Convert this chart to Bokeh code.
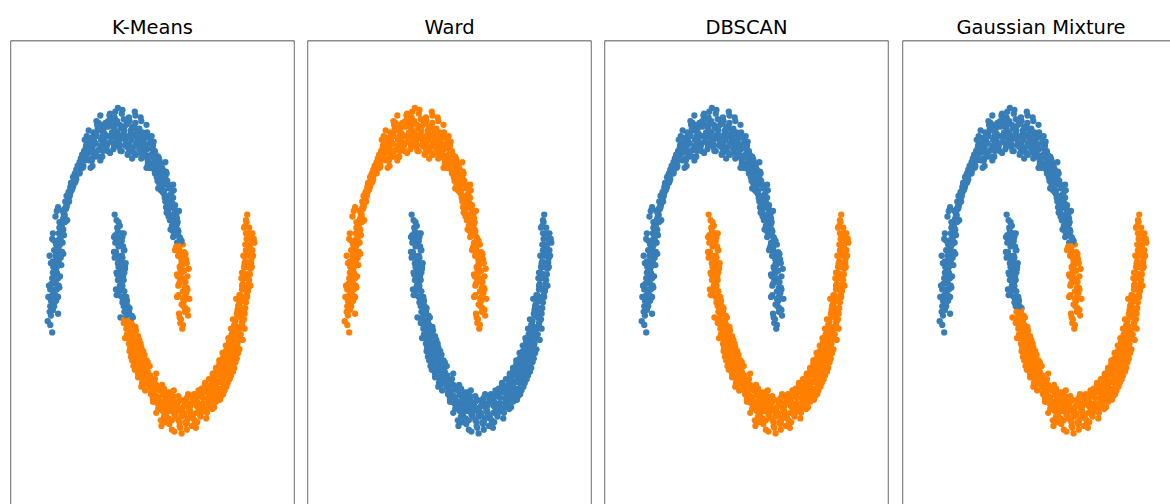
from bokeh.plotting import figure
from bokeh.layouts import row
from bokeh.models import ColumnDataSource, Range1d, Span
from bokeh.embed import file_html
from bokeh.resources import INLINE

TITLES = ["K-Means", "Ward", "DBSCAN", "Gaussian Mixture"]
COLORS = ["#377eb8", "#ff7f00"]

# ---- two-moons points ----
UPPER_X = [
    1.03, 0.95, 1.01, 1.07, 0.98, 0.94, 1.02, 1.06, 0.99, 0.97,
    1.04, 0.93, 1.00, 1.09, 0.96, 0.99, 1.05, 0.92, 1.02, 1.03,
    0.95, 1.01, 1.06, 0.97, 0.90, 1.04, 0.98, 0.93, 1.08, 0.99,
    0.96, 1.02, 0.91, 0.99, 1.05, 1.01, 0.94, 0.97, 1.06, 0.92,
    0.99, 0.90, 1.03, 0.95, 1.00, 0.92, 1.01, 0.97, 0.88, 1.04,
    0.98, 0.93, 1.02, 0.90, 0.95, 0.89, 0.97, 0.94, 1.01, 0.92,
    0.95, 0.87, 0.99, 0.92, 0.96, 0.93, 0.86, 0.97, 0.90, 0.84,
    0.88, 0.95, 0.91, 0.83, 0.93, 0.91, 0.86, 0.80, 0.94, 0.89,
    0.84, 0.90, 0.87, 0.93, 0.81, 0.88, 0.82, 0.86, 0.79, 0.91,
    0.80, 0.87, 0.84, 0.89, 0.78, 0.83, 0.77, 0.86, 0.81, 0.74,
    0.76, 0.84, 0.79, 0.82, 0.85, 0.81, 0.73, 0.78, 0.84, 0.75,
    0.72, 0.79, 0.76, 0.81, 0.70, 0.77, 0.71, 0.74, 0.68, 0.79,
    0.70, 0.75, 0.66, 0.73, 0.78, 0.72, 0.65, 0.69, 0.74, 0.67,
    0.63, 0.70, 0.67, 0.72, 0.61, 0.68, 0.60, 0.65, 0.70, 0.62,
    0.59, 0.66, 0.62, 0.57, 0.68, 0.63, 0.56, 0.60, 0.65, 0.54,
    0.55, 0.61, 0.58, 0.52, 0.60, 0.57, 0.50, 0.55, 0.59, 0.53,
    0.49, 0.56, 0.51, 0.54, 0.47, 0.52, 0.45, 0.50, 0.54, 0.48,
    0.44, 0.50, 0.47, 0.42, 0.51, 0.46, 0.40, 0.43, 0.48, 0.38,
    0.38, 0.44, 0.41, 0.36, 0.45, 0.41, 0.35, 0.39, 0.43, 0.33,
    0.32, 0.37, 0.35, 0.30, 0.40, 0.35, 0.29, 0.32, 0.37, 0.27,
    0.27, 0.32, 0.29, 0.24, 0.34, 0.29, 0.23, 0.26, 0.31, 0.21,
    0.20, 0.26, 0.23, 0.18, 0.27, 0.23, 0.17, 0.21, 0.25, 0.15,
    0.14, 0.19, 0.17, 0.12, 0.21, 0.16, 0.10, 0.14, 0.19, 0.12,
    0.08, 0.13, 0.11, 0.06, 0.15, 0.10, 0.04, 0.08, 0.12, 0.05,
    0.02, 0.07, 0.05, 0.00, 0.09, 0.04, -0.02, 0.01, 0.06, -0.01,
    -0.04, 0.01, -0.02, -0.06, 0.03, -0.02, -0.08, -0.05, -0.01, -0.07,
    -0.10, -0.05, -0.08, -0.12, -0.04, -0.08, -0.14, -0.11, -0.06, -0.13,
    -0.16, -0.12, -0.14, -0.19, -0.10, -0.15, -0.20, -0.17, -0.13, -0.22,
    -0.23, -0.18, -0.21, -0.25, -0.16, -0.21, -0.26, -0.23, -0.19, -0.28,
    -0.29, -0.24, -0.27, -0.31, -0.22, -0.27, -0.32, -0.29, -0.25, -0.34,
    -0.35, -0.30, -0.33, -0.37, -0.28, -0.33, -0.38, -0.35, -0.31, -0.40,
    -0.41, -0.36, -0.39, -0.43, -0.34, -0.39, -0.44, -0.41, -0.37, -0.46,
    -0.47, -0.42, -0.45, -0.49, -0.40, -0.45, -0.50, -0.47, -0.43, -0.52,
    -0.52, -0.47, -0.50, -0.54, -0.45, -0.50, -0.55, -0.52, -0.48, -0.57,
    -0.57, -0.52, -0.55, -0.60, -0.51, -0.55, -0.60, -0.58, -0.53, -0.62,
    -0.63, -0.57, -0.60, -0.65, -0.56, -0.60, -0.66, -0.63, -0.58, -0.68,
    -0.67, -0.62, -0.65, -0.70, -0.60, -0.65, -0.71, -0.67, -0.63, -0.73,
    -0.72, -0.67, -0.70, -0.75, -0.65, -0.69, -0.75, -0.72, -0.67, -0.77,
    -0.77, -0.71, -0.74, -0.79, -0.70, -0.74, -0.80, -0.76, -0.72, -0.82,
    -0.81, -0.75, -0.78, -0.84, -0.74, -0.78, -0.83, -0.80, -0.76, -0.86,
    -0.85, -0.76, -0.83, -0.88, -0.80, -0.80, -0.89, -0.84, -0.77, -0.86,
    -0.90, -0.84, -0.79, -0.86, -0.93, -0.83, -0.92, -0.87, -0.95, -0.85,
    -0.91, -0.82, -0.89, -0.86, -0.97, -0.87, -0.95, -0.84, -0.91, -0.99,
    -0.96, -0.88, -0.93, -0.85, -0.91, -0.89, -0.97, -0.92, -1.01, -0.87,
    -0.98, -0.90, -0.95, -0.88, -1.02, -0.92, -1.00, -0.89, -0.96, -1.04,
    -1.01, -0.93, -0.97, -0.90, -0.99, -0.92, -1.02, -0.96, -1.06, -0.94,
    -1.03, -0.95, -0.99, -0.91, -1.01, -0.95, -1.05, -0.97, -1.00, -0.92,
    -1.02, -0.94, -1.07, -0.98, -0.96, -0.96, -1.04, -0.99, -0.93, -1.08,
    -1.05, -0.98, -0.93, -1.01, -1.03, -0.97, -1.06, -1.00, -0.95, -1.02,
    -1.04, -0.96, -1.01, -1.09, -0.94, -0.99, -1.05, -0.93, -1.02, -0.97,
]
UPPER_Y = [
    0.05, -0.03, 0.09, 0.01, -0.06, 0.00, 0.11, 0.04, -0.04, 0.07,
    0.13, 0.02, 0.06, 0.10, -0.01, 0.07, 0.16, 0.12, 0.03, 0.19,
    0.20, 0.09, 0.15, 0.24, 0.11, 0.13, 0.21, 0.18, 0.26, 0.10,
    0.25, 0.16, 0.22, 0.14, 0.29, 0.19, 0.27, 0.31, 0.22, 0.17,
    0.30, 0.23, 0.34, 0.26, 0.20, 0.33, 0.25, 0.29, 0.37, 0.31,
    0.28, 0.36, 0.32, 0.40, 0.35, 0.38, 0.31, 0.43, 0.35, 0.33,
    0.42, 0.36, 0.39, 0.46, 0.33, 0.37, 0.45, 0.41, 0.50, 0.43,
    0.47, 0.40, 0.44, 0.52, 0.38, 0.51, 0.44, 0.47, 0.42, 0.55,
    0.46, 0.53, 0.49, 0.57, 0.52, 0.55, 0.49, 0.58, 0.52, 0.47,
    0.52, 0.60, 0.55, 0.50, 0.63, 0.61, 0.54, 0.58, 0.66, 0.56,
    0.57, 0.64, 0.60, 0.55, 0.68, 0.66, 0.59, 0.63, 0.71, 0.61,
    0.62, 0.70, 0.65, 0.59, 0.68, 0.71, 0.64, 0.77, 0.67, 0.62,
    0.66, 0.73, 0.70, 0.78, 0.69, 0.75, 0.68, 0.72, 0.65, 0.80,
    0.71, 0.78, 0.74, 0.83, 0.69, 0.79, 0.73, 0.76, 0.71, 0.85,
    0.75, 0.82, 0.78, 0.87, 0.73, 0.84, 0.77, 0.80, 0.74, 0.89,
    0.79, 0.86, 0.82, 0.90, 0.76, 0.87, 0.80, 0.84, 0.78, 0.92,
    0.82, 0.89, 0.86, 0.94, 0.80, 0.91, 0.84, 0.87, 0.81, 0.96,
    0.90, 0.82, 0.93, 0.87, 0.97, 0.86, 0.90, 0.80, 0.96, 0.93,
    0.86, 0.99, 0.92, 0.89, 0.82, 0.97, 0.88, 0.95, 1.03, 0.92,
    0.91, 0.99, 0.85, 0.94, 0.97, 1.05, 0.94, 0.90, 0.98, 0.87,
    0.93, 1.01, 0.96, 0.88, 1.07, 0.99, 0.91, 1.04, 0.96, 0.85,
    0.95, 1.08, 0.97, 0.90, 1.01, 1.02, 0.93, 0.98, 1.10, 0.88,
    0.91, 0.99, 1.05, 0.96, 1.02, 1.07, 0.95, 0.87, 1.00, 1.03,
    0.98, 1.04, 0.93, 1.11, 0.97, 0.92, 1.01, 1.06, 0.96, 0.89,
    1.03, 0.97, 1.09, 0.94, 1.00, 0.96, 1.05, 0.91, 1.02, 1.12,
    1.04, 0.93, 0.99, 1.07, 0.89, 0.95, 1.02, 1.10, 0.98, 0.92,
    1.06, 0.99, 0.90, 1.03, 0.96, 0.93, 1.08, 0.97, 1.01, 0.88,
    1.02, 0.94, 1.05, 0.91, 0.99, 0.97, 1.04, 0.89, 1.09, 0.95,
    1.01, 0.92, 0.98, 0.86, 1.05, 0.94, 1.03, 0.99, 0.90, 1.08,
    1.00, 0.89, 0.95, 1.04, 0.93, 0.92, 1.01, 0.86, 0.97, 1.05,
    0.98, 0.90, 1.03, 0.94, 0.84, 0.89, 0.97, 0.93, 1.01, 0.91,
    0.95, 0.86, 0.99, 0.91, 0.97, 0.88, 0.96, 0.84, 0.93, 1.00,
    0.93, 0.85, 0.90, 0.97, 0.81, 0.84, 0.92, 0.88, 0.80, 0.95,
    0.84, 0.90, 0.87, 0.81, 0.93, 0.88, 0.80, 0.85, 0.92, 0.83,
    0.81, 0.87, 0.84, 0.78, 0.90, 0.85, 0.77, 0.82, 0.89, 0.79,
    0.77, 0.83, 0.80, 0.74, 0.87, 0.81, 0.73, 0.78, 0.85, 0.76,
    0.72, 0.79, 0.76, 0.70, 0.83, 0.77, 0.69, 0.74, 0.81, 0.72,
    0.68, 0.75, 0.72, 0.66, 0.79, 0.73, 0.65, 0.70, 0.77, 0.67,
    0.63, 0.71, 0.67, 0.61, 0.75, 0.69, 0.60, 0.65, 0.72, 0.62,
    0.58, 0.67, 0.62, 0.56, 0.70, 0.64, 0.55, 0.60, 0.67, 0.57,
    0.53, 0.62, 0.58, 0.51, 0.65, 0.59, 0.50, 0.55, 0.62, 0.52,
    0.48, 0.56, 0.52, 0.45, 0.59, 0.54, 0.45, 0.50, 0.57, 0.47,
    0.42, 0.51, 0.47, 0.40, 0.54, 0.48, 0.39, 0.44, 0.51, 0.41,
    0.36, 0.45, 0.41, 0.34, 0.48, 0.42, 0.33, 0.38, 0.45, 0.35,
    0.30, 0.39, 0.35, 0.28, 0.42, 0.36, 0.27, 0.32, 0.39, 0.29,
    0.24, 0.33, 0.29, 0.22, 0.36, 0.30, 0.21, 0.26, 0.33, 0.23,
    0.18, 0.27, 0.23, 0.16, 0.30, 0.24, 0.15, 0.20, 0.27, 0.17,
    0.12, 0.21, 0.17, 0.10, 0.24, 0.18, 0.09, 0.14, 0.21, 0.11,
    0.06, 0.15, 0.11, 0.04, 0.18, 0.12, 0.03, 0.08, 0.15, 0.05,
    0.01, 0.09, 0.05, -0.02, 0.11, 0.06, -0.04, 0.02, -0.08, 0.09,
]
LOWER_X = [
    -0.03, 0.04, 0.01, -0.06, 0.06, 0.05, -0.02, 0.08, 0.00, -0.05,
    -0.01, 0.07, -0.07, 0.03, 0.02, 0.09, -0.04, 0.01, 0.05, -0.02,
    -0.05, 0.03, 0.08, -0.01, 0.04, 0.02, -0.07, 0.06, 0.00, 0.10,
    -0.02, 0.05, 0.01, 0.09, -0.04, 0.07, -0.01, 0.04, -0.06, 0.02,
    0.00, 0.08, -0.03, 0.05, 0.11, 0.06, -0.02, 0.03, 0.10, -0.04,
    0.01, 0.09, 0.05, -0.03, 0.07, 0.10, 0.02, 0.06, -0.01, 0.13,
    0.04, 0.12, 0.00, 0.08, 0.03, 0.13, 0.05, 0.09, 0.01, 0.16,
    0.07, 0.14, 0.10, 0.03, 0.12, 0.09, 0.17, 0.13, 0.06, 0.11,
    0.16, 0.08, 0.12, 0.19, 0.14, 0.12, 0.20, 0.15, 0.09, 0.17,
    0.19, 0.13, 0.17, 0.22, 0.10, 0.15, 0.21, 0.18, 0.24, 0.13,
    0.23, 0.16, 0.20, 0.26, 0.18, 0.19, 0.25, 0.22, 0.17, 0.27,
    0.27, 0.21, 0.24, 0.30, 0.19, 0.23, 0.29, 0.26, 0.21, 0.32,
    0.31, 0.25, 0.28, 0.34, 0.23, 0.27, 0.33, 0.30, 0.25, 0.35,
    0.35, 0.29, 0.33, 0.38, 0.30, 0.32, 0.38, 0.35, 0.30, 0.40,
    0.40, 0.34, 0.37, 0.43, 0.36, 0.37, 0.43, 0.40, 0.35, 0.45,
    0.45, 0.39, 0.42, 0.48, 0.41, 0.48, 0.42, 0.45, 0.50, 0.43,
    0.45, 0.51, 0.48, 0.43, 0.53, 0.53, 0.47, 0.50, 0.56, 0.49,
    0.50, 0.56, 0.53, 0.48, 0.58, 0.58, 0.53, 0.56, 0.61, 0.54,
    0.56, 0.62, 0.59, 0.54, 0.64, 0.64, 0.58, 0.61, 0.67, 0.60,
    0.62, 0.68, 0.65, 0.60, 0.70, 0.70, 0.64, 0.67, 0.73, 0.66,
    0.68, 0.74, 0.71, 0.66, 0.76, 0.76, 0.70, 0.74, 0.79, 0.72,
    0.74, 0.80, 0.77, 0.72, 0.82, 0.82, 0.76, 0.80, 0.85, 0.78,
    0.80, 0.86, 0.83, 0.78, 0.88, 0.88, 0.82, 0.86, 0.91, 0.84,
    0.86, 0.92, 0.89, 0.84, 0.94, 0.94, 0.88, 0.92, 0.97, 0.90,
    0.92, 0.98, 0.95, 0.90, 1.00, 1.01, 0.95, 0.98, 1.04, 0.97,
    0.99, 1.05, 1.02, 0.97, 1.07, 1.07, 1.01, 1.05, 1.10, 1.03,
    1.05, 1.11, 1.08, 1.03, 1.13, 1.13, 1.07, 1.11, 1.16, 1.09,
    1.11, 1.17, 1.14, 1.09, 1.19, 1.20, 1.14, 1.17, 1.22, 1.15,
    1.18, 1.24, 1.20, 1.15, 1.25, 1.26, 1.20, 1.23, 1.28, 1.21,
    1.24, 1.30, 1.26, 1.21, 1.32, 1.32, 1.26, 1.29, 1.35, 1.28,
    1.30, 1.36, 1.32, 1.27, 1.38, 1.38, 1.32, 1.35, 1.41, 1.33,
    1.36, 1.42, 1.38, 1.33, 1.44, 1.44, 1.38, 1.41, 1.47, 1.40,
    1.42, 1.48, 1.44, 1.39, 1.50, 1.50, 1.44, 1.47, 1.53, 1.45,
    1.47, 1.53, 1.50, 1.45, 1.56, 1.55, 1.49, 1.52, 1.58, 1.50,
    1.52, 1.58, 1.55, 1.50, 1.61, 1.60, 1.54, 1.57, 1.63, 1.55,
    1.57, 1.63, 1.60, 1.55, 1.66, 1.65, 1.59, 1.62, 1.68, 1.60,
    1.62, 1.68, 1.65, 1.60, 1.71, 1.70, 1.64, 1.67, 1.73, 1.65,
    1.67, 1.73, 1.70, 1.65, 1.76, 1.75, 1.69, 1.72, 1.78, 1.70,
    1.72, 1.78, 1.74, 1.69, 1.80, 1.79, 1.73, 1.76, 1.82, 1.74,
    1.76, 1.82, 1.78, 1.73, 1.84, 1.83, 1.77, 1.80, 1.86, 1.78,
    1.79, 1.86, 1.83, 1.76, 1.81, 1.88, 1.80, 1.84, 1.91, 1.83,
    1.82, 1.87, 1.91, 1.85, 1.79, 1.90, 1.83, 1.88, 1.94, 1.86,
    1.85, 1.93, 1.87, 1.81, 1.90, 1.94, 1.88, 1.84, 1.91, 1.97,
    1.87, 1.95, 1.92, 1.99, 1.89, 1.96, 1.90, 1.86, 1.93, 2.00,
    1.91, 1.98, 1.95, 1.89, 1.94, 1.99, 1.93, 2.03, 1.95, 1.90,
    1.92, 2.00, 1.96, 2.05, 1.94, 2.01, 1.93, 1.98, 1.90, 2.04,
    1.95, 2.02, 1.97, 2.07, 1.99, 2.03, 1.94, 1.99, 1.96, 2.06,
    1.96, 2.04, 1.92, 2.01, 1.98, 2.05, 1.97, 2.00, 1.94, 2.08,
    1.97, 2.03, 1.95, 2.06, 2.00, 2.02, 1.96, 2.07, 1.99, 1.93,
    1.95, 2.04, 2.00, 1.97, 2.09, 2.03, 1.96, 2.01, 2.06, 1.98,
]
LOWER_Y = [
    0.52, 0.45, 0.49, 0.55, 0.43, 0.41, 0.48, 0.45, 0.51, 0.44,
    0.46, 0.38, 0.43, 0.40, 0.49, 0.36, 0.42, 0.39, 0.33, 0.44,
    0.40, 0.32, 0.36, 0.42, 0.30, 0.29, 0.35, 0.32, 0.38, 0.27,
    0.33, 0.26, 0.30, 0.24, 0.35, 0.22, 0.29, 0.27, 0.32, 0.25,
    0.27, 0.20, 0.24, 0.18, 0.29, 0.17, 0.23, 0.21, 0.26, 0.15,
    0.21, 0.14, 0.18, 0.12, 0.23, 0.11, 0.17, 0.15, 0.20, 0.09,
    0.15, 0.08, 0.12, 0.06, 0.17, 0.05, 0.11, 0.09, 0.14, 0.03,
    0.09, 0.02, 0.06, 0.00, 0.11, -0.01, 0.05, 0.03, 0.08, -0.03,
    0.04, -0.03, 0.01, -0.05, 0.06, -0.06, 0.01, -0.02, 0.03, -0.08,
    -0.02, -0.09, -0.05, 0.00, -0.11, -0.11, -0.04, -0.07, -0.13, -0.02,
    -0.07, -0.14, -0.10, -0.05, -0.16, -0.16, -0.09, -0.12, -0.18, -0.07,
    -0.12, -0.19, -0.15, -0.10, -0.21, -0.21, -0.14, -0.17, -0.23, -0.12,
    -0.17, -0.24, -0.20, -0.14, -0.26, -0.25, -0.18, -0.22, -0.28, -0.16,
    -0.21, -0.28, -0.24, -0.18, -0.30, -0.29, -0.22, -0.26, -0.32, -0.20,
    -0.25, -0.32, -0.28, -0.23, -0.35, -0.33, -0.26, -0.30, -0.37, -0.24,
    -0.29, -0.36, -0.32, -0.26, -0.39, -0.37, -0.30, -0.34, -0.41, -0.28,
    -0.32, -0.40, -0.35, -0.29, -0.43, -0.41, -0.33, -0.37, -0.44, -0.31,
    -0.40, -0.33, -0.45, -0.37, -0.30, -0.36, -0.44, -0.39, -0.49, -0.41,
    -0.45, -0.38, -0.42, -0.34, -0.47, -0.39, -0.51, -0.43, -0.36, -0.46,
    -0.48, -0.41, -0.55, -0.44, -0.38, -0.42, -0.47, -0.37, -0.52, -0.45,
    -0.50, -0.43, -0.47, -0.58, -0.40, -0.44, -0.53, -0.41, -0.48, -0.56,
    -0.49, -0.40, -0.54, -0.46, -0.60, -0.55, -0.45, -0.50, -0.39, -0.48,
    -0.43, -0.52, -0.47, -0.57, -0.50, -0.53, -0.46, -0.61, -0.49, -0.42,
    -0.47, -0.55, -0.50, -0.44, -0.58, -0.56, -0.49, -0.42, -0.52, -0.46,
    -0.45, -0.53, -0.59, -0.48, -0.51, -0.52, -0.44, -0.50, -0.57, -0.62,
    -0.48, -0.56, -0.45, -0.51, -0.41, -0.54, -0.47, -0.60, -0.50, -0.44,
    -0.43, -0.51, -0.48, -0.56, -0.53, -0.58, -0.46, -0.52, -0.41, -0.49,
    -0.47, -0.55, -0.44, -0.50, -0.59, -0.51, -0.42, -0.57, -0.48, -0.45,
    -0.44, -0.50, -0.47, -0.54, -0.40, -0.52, -0.45, -0.39, -0.49, -0.56,
    -0.42, -0.48, -0.53, -0.45, -0.50, -0.49, -0.41, -0.46, -0.54, -0.38,
    -0.43, -0.51, -0.40, -0.47, -0.45, -0.46, -0.39, -0.49, -0.42, -0.36,
    -0.40, -0.47, -0.43, -0.35, -0.49, -0.44, -0.37, -0.41, -0.48, -0.39,
    -0.36, -0.43, -0.40, -0.33, -0.45, -0.41, -0.35, -0.38, -0.44, -0.31,
    -0.33, -0.41, -0.37, -0.30, -0.44, -0.39, -0.31, -0.35, -0.42, -0.29,
    -0.30, -0.38, -0.34, -0.27, -0.41, -0.35, -0.28, -0.32, -0.39, -0.25,
    -0.26, -0.34, -0.30, -0.23, -0.37, -0.32, -0.24, -0.28, -0.35, -0.22,
    -0.22, -0.30, -0.26, -0.19, -0.33, -0.28, -0.20, -0.24, -0.31, -0.18,
    -0.18, -0.26, -0.22, -0.15, -0.29, -0.23, -0.16, -0.20, -0.27, -0.13,
    -0.14, -0.21, -0.17, -0.11, -0.24, -0.19, -0.11, -0.15, -0.22, -0.09,
    -0.09, -0.16, -0.12, -0.06, -0.19, -0.14, -0.06, -0.10, -0.17, -0.04,
    -0.04, -0.11, -0.07, -0.01, -0.14, -0.09, -0.02, -0.05, -0.12, 0.01,
    0.02, -0.06, -0.02, 0.05, -0.09, -0.03, 0.04, 0.00, -0.06, 0.07,
    0.07, -0.01, 0.03, 0.10, -0.04, 0.02, 0.09, 0.06, -0.01, 0.12,
    0.12, 0.05, 0.09, 0.15, 0.03, 0.08, 0.15, 0.12, 0.05, 0.18,
    0.18, 0.11, 0.15, 0.21, 0.09, 0.14, 0.21, 0.17, 0.11, 0.24,
    0.24, 0.17, 0.21, 0.27, 0.15, 0.20, 0.27, 0.23, 0.17, 0.30,
    0.30, 0.23, 0.27, 0.33, 0.21, 0.26, 0.33, 0.29, 0.23, 0.36,
    0.36, 0.29, 0.33, 0.39, 0.27, 0.32, 0.39, 0.36, 0.29, 0.42,
    0.42, 0.35, 0.39, 0.45, 0.33, 0.38, 0.45, 0.42, 0.35, 0.48,
    0.49, 0.42, 0.45, 0.51, 0.40, 0.45, 0.52, 0.48, 0.42, 0.55,
]

# ---- cluster assignment of every point, per method (0 = blue, 1 = orange) ----
KM_UPPER = (
    "11111 11111 11111 11111 11111 11111 11111 11111 11111 11111 "
    "11101 11011 01101 10000 00001 00000 00000 00000 00000 00000 "
    "00000 00000 00000 00000 00000 00000 00000 00000 00000 00000 "
    "00000 00000 00000 00000 00000 00000 00000 00000 00000 00000 "
    "00000 00000 00000 00000 00000 00000 00000 00000 00000 00000 "
    "00000 00000 00000 00000 00000 00000 00000 00000 00000 00000 "
    "00000 00000 00000 00000 00000 00000 00000 00000 00000 00000 "
    "00000 00000 00000 00000 00000 00000 00000 00000 00000 00000 "
    "00000 00000 00000 00000 00000 00000 00000 00000 00000 00000 "
    "00000 00000 00000 00000 00000 00000 00000 00000 00000 00000"
)
KM_LOWER = (
    "00000 00000 00000 00000 00000 00000 00000 00000 00000 00000 "
    "00000 00000 00000 00000 00000 10001 01010 10101 11101 11111 "
    "11111 11111 11111 11111 11111 11111 11111 11111 11111 11111 "
    "11111 11111 11111 11111 11111 11111 11111 11111 11111 11111 "
    "11111 11111 11111 11111 11111 11111 11111 11111 11111 11111 "
    "11111 11111 11111 11111 11111 11111 11111 11111 11111 11111 "
    "11111 11111 11111 11111 11111 11111 11111 11111 11111 11111 "
    "11111 11111 11111 11111 11111 11111 11111 11111 11111 11111 "
    "11111 11111 11111 11111 11111 11111 11111 11111 11111 11111 "
    "11111 11111 11111 11111 11111 11111 11111 11111 11111 11111"
)
GMM_UPPER = KM_UPPER
GMM_LOWER = (
    "00000 00000 00000 00000 00000 00000 00000 00000 00000 00000 "
    "00000 00000 00000 00001 01010 10101 11110 11111 11111 11111 "
    "11111 11111 11111 11111 11111 11111 11111 11111 11111 11111 "
    "11111 11111 11111 11111 11111 11111 11111 11111 11111 11111 "
    "11111 11111 11111 11111 11111 11111 11111 11111 11111 11111 "
    "11111 11111 11111 11111 11111 11111 11111 11111 11111 11111 "
    "11111 11111 11111 11111 11111 11111 11111 11111 11111 11111 "
    "11111 11111 11111 11111 11111 11111 11111 11111 11111 11111 "
    "11111 11111 11111 11111 11111 11111 11111 11111 11111 11111 "
    "11111 11111 11111 11111 11111 11111 11111 11111 11111 11111"
)
WARD_MOON_CLUSTER = {"upper": 1, "lower": 0}
DBSCAN_MOON_CLUSTER = {"upper": 0, "lower": 1}

# ---- view ----
X_START, X_END = -1.662, 2.707
Y_START, Y_END = -1.0, 1.481
FRAME_W = 284
FIG_H = 504
TOP = 40
BORDER = "#1a1a1a"

n_up = min(len(UPPER_X), len(UPPER_Y))
n_lo = min(len(LOWER_X), len(LOWER_Y))
XS = UPPER_X[:n_up] + LOWER_X[:n_lo]
YS = UPPER_Y[:n_up] + LOWER_Y[:n_lo]


def parse(s, n, fallback):
    d = [int(c) for c in s if c in "01"]
    if len(d) < n:
        d = d + [d[-1] if d else fallback] * (n - len(d))
    return d[:n]


def labels_from_strings(up, lo):
    return parse(up, n_up, 0) + parse(lo, n_lo, 1)


def labels_from_moons(m):
    return [m["upper"]] * n_up + [m["lower"]] * n_lo


LABELS = [
    labels_from_strings(KM_UPPER, KM_LOWER),
    labels_from_moons(WARD_MOON_CLUSTER),
    labels_from_moons(DBSCAN_MOON_CLUSTER),
    labels_from_strings(GMM_UPPER, GMM_LOWER),
]

# figure widths, left borders and visible frame widths (last panel is cut by the page edge)
WIDTHS = [305, 297, 298, 270]
LEFTS = [10, 2, 2, 2]
FRAMES = [284, 284, 284, 268]


def make_panel(i):
    w, lb, fw = WIDTHS[i], LEFTS[i], FRAMES[i]
    x_end = X_START + (X_END - X_START) * fw / FRAME_W
    p = figure(
        width=w, height=FIG_H,
        x_range=Range1d(X_START, x_end), y_range=Range1d(Y_START, Y_END),
        output_backend="svg", toolbar_location=None,
        x_axis_location=None, y_axis_location=None,
        min_border_left=lb, min_border_right=w - lb - fw,
        min_border_top=TOP, min_border_bottom=0,
        title=TITLES[i],
    )
    p.grid.visible = False
    p.outline_line_color = None
    p.background_fill_color = "white"
    p.border_fill_color = "white"
    t = p.title
    t.text_font = "DejaVu Sans"
    t.text_font_size = "19.5px"
    t.text_font_style = "normal"
    t.text_color = "black"
    t.standoff = 3
    if fw == FRAME_W:
        t.align = "center"
    else:
        t.align = "left"
        t.offset = 54
    src = ColumnDataSource(dict(
        x=XS, y=YS, color=[COLORS[l] for l in LABELS[i]]
    ))
    p.scatter("x", "y", source=src, size=6.3, fill_color="color", line_color=None)
    p.add_layout(Span(location=X_START, dimension="height",
                      line_color=BORDER, line_width=1.3))
    p.add_layout(Span(location=Y_END, dimension="width",
                      line_color=BORDER, line_width=1.3))
    if fw == FRAME_W:
        p.add_layout(Span(location=x_end, dimension="height",
                          line_color=BORDER, line_width=1.3))
    return p


layout = row(*[make_panel(i) for i in range(4)])
open("out.html", "w").write(file_html(layout, INLINE))
